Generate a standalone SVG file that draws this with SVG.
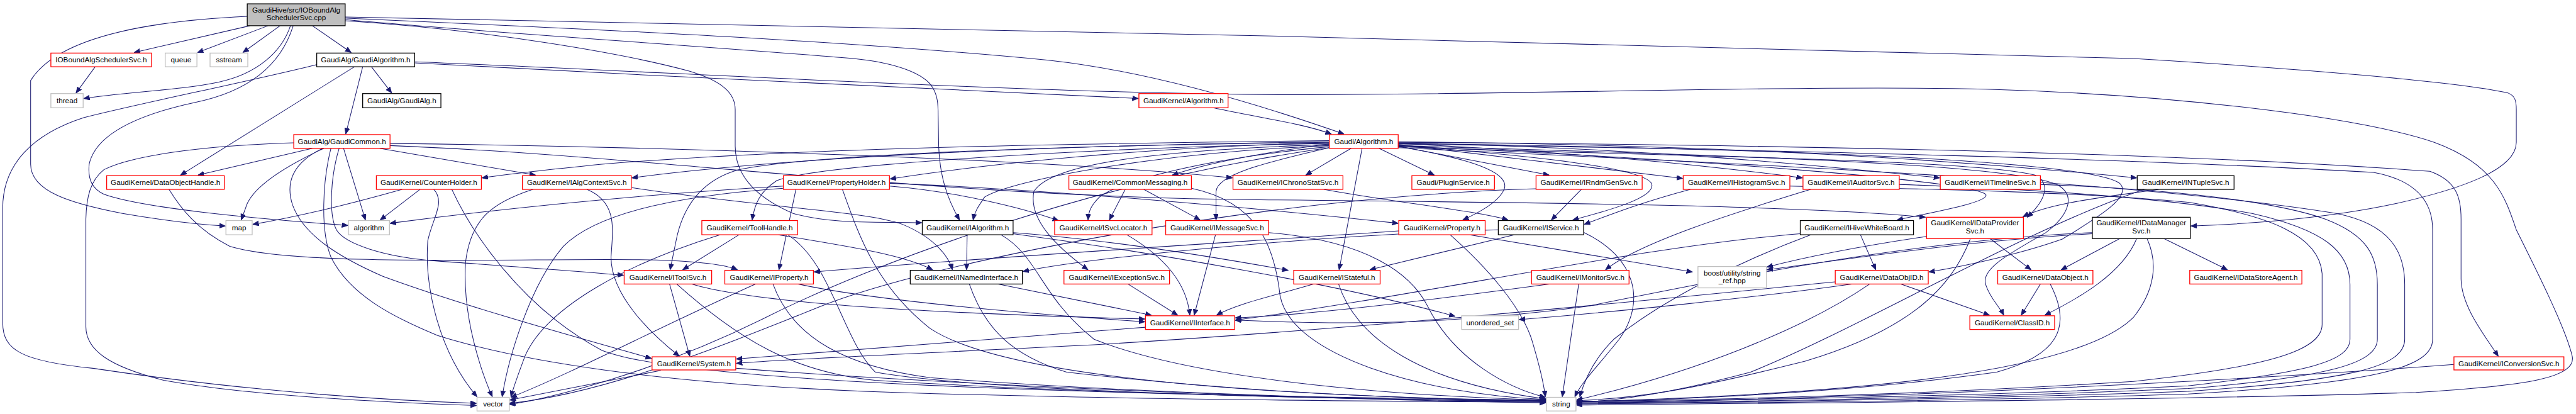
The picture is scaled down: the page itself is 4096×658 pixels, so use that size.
<svg xmlns="http://www.w3.org/2000/svg" width="4096" height="658" viewBox="0 0 4096 658">
<style>
.n rect{fill:#fff;stroke-width:1.5}
.r rect{stroke:#ff0000}
.b rect{stroke:#000}
.g rect{stroke:#bfbfbf}
.root rect{fill:#bfbfbf;stroke:#000}
text{font-family:"Liberation Sans",Arial,Helvetica,sans-serif;font-size:13.5px;text-anchor:middle;fill:#000}
#edges path{fill:none;stroke:#191970;stroke-width:1.2;marker-end:url(#a)}
</style>
<defs>
<marker id="a" markerUnits="userSpaceOnUse" markerWidth="12" markerHeight="10" refX="11" refY="4.5" orient="auto">
<path d="M0,0 L11,4.5 L0,9 z" fill="#191970" stroke="#191970" stroke-width="1"/>
</marker>
</defs>
<rect x="0" y="0" width="4096" height="658" fill="#fff"/>
<g transform="scale(0.8698)">
<g id="edges">
<path d="M457,47 L245,96"/>
<path d="M490,47 L361,96"/>
<path d="M512,47 L444,96"/>
<path d="M571,47 L642,96"/>
<path d="M531,47 C515,95 470,135 400,150 C330,165 230,168 153,180"/>
<path d="M452,30 C300,37 110,60 56,147 L56,300 C56,350 130,372 224,390 C300,403 360,410 412,413"/>
<path d="M536,47 C510,130 440,170 357,187 C250,210 175,245 163,300 C160,330 170,345 190,355 C260,380 450,398 636,412"/>
<path d="M631,38 C900,55 1150,100 1260,130 C1320,148 1344,170 1344,200 L1344,267 C1344,320 1380,360 1450,390 C1520,410 1600,405 1685,407"/>
<path d="M631,36 C900,60 1300,85 1560,107 C1640,115 1690,135 1705,160 C1714,175 1715,190 1715,210 L1716,267 C1718,320 1730,360 1754,402"/>
<path d="M631,33 C1000,50 1500,70 1917,110 C2100,130 2300,190 2457,245"/>
<path d="M631,31 C1500,45 3000,80 3900,107 C4200,125 4500,150 4585,170 C4598,175 4600,185 4600,200 L4600,260 C4600,310 4500,345 4380,372 C4250,400 4100,410 4005,413"/>
<path d="M679,122 L716,170"/>
<path d="M663,122 L632,245"/>
<path d="M648,122 L330,320"/>
<path d="M579,118 C450,150 250,190 153,215 C60,245 5,300 5,380 L5,590 C5,640 40,660 170,673 C350,700 600,728 871,737"/>
<path d="M758,115 C1200,138 1700,165 2081,180"/>
<path d="M758,113 C1200,130 1900,172 2360,173 C2800,173 3300,155 3630,163 C3950,172 4300,210 4450,260 C4560,300 4580,360 4600,420 C4640,500 4690,600 4702,650 C4712,690 4620,705 4416,717 C4100,728 3500,735 2882,740"/>
<path d="M2218,197 C2300,215 2380,225 2434,245"/>
<path d="M571,271 L362,320"/>
<path d="M592,271 C530,300 460,340 449,380 L441,402"/>
<path d="M628,271 L668,402"/>
<path d="M694,271 L979,320"/>
<path d="M713,262 C1200,268 1900,290 2253,325"/>
<path d="M537,261 C400,265 250,280 190,310 C165,330 158,360 157,400 L157,597 C157,640 200,670 300,695 C450,722 700,735 871,741"/>
<path d="M590,271 C540,295 520,330 535,375 C555,430 620,470 700,505 C850,560 1050,615 1191,655"/>
<path d="M620,271 C605,320 600,390 615,420 C630,445 700,470 800,477 C950,488 1050,495 1140,503"/>
<path d="M605,271 C590,330 585,420 605,470 C640,540 720,580 800,613 C950,660 1200,700 1580,715 C2000,730 2500,733 2826,735"/>
<path d="M713,266 C1200,285 1700,360 2300,365 C2800,370 3300,375 3520,397"/>
<path d="M2470,271 L2387,320"/>
<path d="M2521,271 L2622,320"/>
<path d="M2556,267 L2832,320"/>
<path d="M2556,264 L3076,326"/>
<path d="M2556,262 C2900,280 3100,300 3295,325"/>
<path d="M2556,261 C3000,270 3300,300 3546,325"/>
<path d="M2556,259 C3200,265 3600,295 3906,325"/>
<path d="M2490,271 L2448,493"/>
<path d="M2556,268 C2690,290 2760,315 2750,345 C2740,370 2700,390 2674,402"/>
<path d="M2556,265 C2800,285 3000,305 3019,335 C3030,360 2940,385 2875,402"/>
<path d="M2430,257 C2000,262 1500,268 1100,300 C1000,310 930,318 881,325"/>
<path d="M2430,259 C2000,265 1500,280 1155,325"/>
<path d="M2430,261 C2100,268 1800,300 1627,327"/>
<path d="M2430,263 C2300,280 2200,300 2143,320"/>
<path d="M2430,262 C2000,270 1500,300 1420,330 C1390,350 1380,370 1375,402"/>
<path d="M2430,260 C2000,265 1500,280 1350,310 C1280,330 1250,380 1238,430 L1225,493"/>
<path d="M2430,268 C2200,290 2050,330 2010,360 C1995,375 1990,385 1989,402"/>
<path d="M2430,270 C2300,300 2225,320 2223,350 L2223,402"/>
<path d="M2430,264 C2100,275 1920,300 1890,350 C1880,400 1930,450 1989,493"/>
<path d="M2430,266 C2100,280 1850,330 1800,360 C1790,375 1782,385 1779,402"/>
<path d="M2430,270 C2000,330 1600,480 1400,580 C1200,680 1000,730 931,739"/>
<path d="M2556,267 C3100,290 3600,330 3630,355 C3640,370 3520,390 3468,402"/>
<path d="M2556,268 C3000,285 3600,290 3720,320 C3750,335 3740,365 3706,397"/>
<path d="M2556,266 C3200,285 3700,300 3765,340 C3795,360 3780,395 3740,425 C3680,460 3620,490 3630,520 C3638,545 3655,560 3663,576"/>
<path d="M2556,262 C3300,272 3820,295 3875,335 C3900,360 3830,400 3770,437 C3700,462 3600,485 3526,497"/>
<path d="M2556,263 C3300,275 3900,290 4339,315 C4420,330 4447,370 4447,420 L4447,620 C4447,670 4350,700 4000,720 C3600,733 3100,737 2882,738"/>
<path d="M2556,260 C3300,265 4000,280 4442,313 C4490,330 4499,360 4499,400 L4499,510 C4500,560 4540,610 4567,651"/>
<path d="M2556,270 C3200,300 3900,330 4271,390 C4370,410 4396,460 4396,520 L4396,620 C4396,670 4300,695 4000,715 C3600,730 3100,736 2882,737"/>
<path d="M735,346 C650,370 550,395 462,410"/>
<path d="M768,346 L695,402"/>
<path d="M793,346 C815,370 790,400 782,440 C776,520 800,640 872,725"/>
<path d="M826,346 C860,420 950,560 1100,640 C1250,700 2000,722 2826,731"/>
<path d="M974,346 C900,370 860,400 851,480 C845,580 880,680 900,725"/>
<path d="M1073,346 C1130,370 1120,420 1117,470 C1117,540 1190,610 1242,651"/>
<path d="M1155,343 C1400,380 1580,385 1650,410 C1710,435 1735,470 1741,493"/>
<path d="M1432,340 C1100,360 850,390 713,408"/>
<path d="M1432,344 C1200,360 1080,400 1030,450 C970,520 930,650 918,725"/>
<path d="M1455,346 L1424,493"/>
<path d="M1626,335 C1900,345 2300,380 2556,408"/>
<path d="M1540,346 C1570,430 1600,520 1700,600 C1850,700 2400,725 2826,733"/>
<path d="M1626,340 C1750,350 1870,380 1935,403"/>
<path d="M2057,346 L2028,402"/>
<path d="M2091,346 L2194,402"/>
<path d="M2178,344 C2300,370 2330,450 2340,540 C2360,650 2600,720 2826,730"/>
<path d="M2420,346 C2550,370 2700,385 2757,402"/>
<path d="M2891,346 L2836,402"/>
<path d="M2808,345 C2300,360 1700,480 1500,560 C1300,640 1100,720 931,737"/>
<path d="M3090,346 C3000,370 2950,390 2896,410"/>
<path d="M3272,340 C3500,345 3800,350 4003,370 C4150,395 4240,430 4245,500 L4245,593 C4245,640 4150,670 3900,697 C3500,722 3100,732 2882,733"/>
<path d="M3310,346 C3200,380 3000,440 2935,493"/>
<path d="M3472,337 C3700,345 3950,360 4117,390 C4250,420 4296,460 4296,520 L4296,620 C4296,660 4220,680 4000,705 C3600,725 3100,733 2882,734"/>
<path d="M3730,337 C3950,345 4150,365 4250,400 C4330,430 4346,470 4346,520 L4346,620 C4346,665 4250,690 4000,710 C3600,728 3100,735 2882,736"/>
<path d="M3946,346 C3850,360 3750,370 3698,396"/>
<path d="M3920,346 C3700,420 3400,600 3200,680 C3050,720 2950,733 2882,735"/>
<path d="M1351,429 L1248,493"/>
<path d="M1316,429 C1150,480 1000,560 960,650 C945,690 938,710 934,725"/>
<path d="M1440,429 C1520,480 1540,620 1600,680 C1800,715 2400,730 2826,732"/>
<path d="M1423,429 C1550,450 1650,465 1705,493"/>
<path d="M1768,429 L1767,493"/>
<path d="M1852,427 C2100,460 2450,520 2660,578"/>
<path d="M1830,429 C1900,470 1900,540 2000,620 C2200,700 2600,725 2826,731"/>
<path d="M1852,425 C2050,440 2250,475 2355,494"/>
<path d="M1825,519 L2105,576"/>
<path d="M1772,519 C1800,600 1850,650 1950,680 C2300,720 2600,730 2826,732"/>
<path d="M2060,429 C2130,470 2170,520 2175,576"/>
<path d="M2222,429 L2183,576"/>
<path d="M2319,425 C2500,440 2580,500 2610,560 C2660,660 2760,710 2825,726"/>
<path d="M2062,519 L2153,576"/>
<path d="M2651,429 C2720,490 2780,560 2800,620 C2815,670 2822,700 2825,725"/>
<path d="M2687,429 L3094,497"/>
<path d="M2557,422 C2300,440 1800,470 1488,497"/>
<path d="M2768,429 L2504,493"/>
<path d="M2739,420 C2400,430 2000,470 1870,496"/>
<path d="M2896,425 C2990,470 3010,550 2960,620 C2920,670 2890,700 2879,725"/>
<path d="M2401,519 C2330,540 2260,555 2224,576"/>
<path d="M2447,519 C2480,620 2600,700 2826,729"/>
<path d="M2886,519 L2856,725"/>
<path d="M2832,519 C2600,550 2400,575 2258,581"/>
<path d="M3401,429 L3429,493"/>
<path d="M3291,427 C3000,450 2600,540 2258,585"/>
<path d="M3310,429 C3200,470 3050,540 2950,620 C2910,660 2895,700 2888,725"/>
<path d="M3638,436 L3713,493"/>
<path d="M3522,432 C3400,450 3300,470 3230,488"/>
<path d="M3602,436 C3570,520 3500,600 3300,660 C3100,710 3000,728 2882,732"/>
<path d="M3875,436 L3768,493"/>
<path d="M3906,436 C3880,500 3800,545 3738,576"/>
<path d="M3956,436 L4072,493"/>
<path d="M3825,427 C3600,440 3400,470 3230,493"/>
<path d="M3925,436 C3945,480 3940,530 3900,580 C3800,680 3400,720 2882,734"/>
<path d="M3825,425 C3500,440 3200,500 2900,560 C2600,600 2400,590 2258,585"/>
<path d="M1224,519 L1261,651"/>
<path d="M1237,519 C1350,620 1450,680 1600,695 C2000,720 2500,730 2826,733"/>
<path d="M1265,519 C1400,560 1800,575 2093,583"/>
<path d="M1381,519 C1200,600 1050,680 934,726"/>
<path d="M1459,519 C1600,550 1900,575 2093,588"/>
<path d="M1413,519 C1450,620 1550,670 1700,690 C2100,720 2500,730 2826,734"/>
<path d="M1208,677 L932,731"/>
<path d="M1346,673 C1700,700 2300,728 2826,736"/>
<path d="M2094,598 C1800,620 1500,645 1346,656"/>
<path d="M3475,519 L3637,576"/>
<path d="M3385,519 C3200,545 2950,570 2777,584"/>
<path d="M3418,519 C3300,600 3100,680 2882,731"/>
<path d="M3355,515 C3000,550 2500,600 2000,630 C1700,645 1450,655 1346,664"/>
<path d="M3730,519 L3695,576"/>
<path d="M3748,519 C3790,600 3760,650 3650,680 C3400,715 3100,730 2882,734"/>
<path d="M4486,666 C4300,680 4000,700 3500,720 C3200,730 3000,735 2882,736"/>
<path d="M309,346 C330,380 360,420 420,450 C550,490 1000,470 1200,475 C1290,478 1330,485 1348,493"/>
<path d="M174,122 L139,170"/>
</g>
<g id="n-root" class="n root"><rect x="452" y="7" width="179" height="40"/><text x="541.5" y="22.7">GaudiHive/src/IOBoundAlg</text><text x="541.5" y="36.7">SchedulerSvc.cpp</text></g>
<g id="n-iobound" class="n r"><rect x="93" y="97" width="184" height="25"/><text x="185" y="114.2">IOBoundAlgSchedulerSvc.h</text></g>
<g id="n-queue" class="n g"><rect x="302" y="97" width="58" height="25"/><text x="331" y="114.2">queue</text></g>
<g id="n-sstream" class="n g"><rect x="384" y="97" width="69" height="25"/><text x="418.5" y="114.2">sstream</text></g>
<g id="n-gaudialgorithm" class="n b"><rect x="579" y="97" width="179" height="25"/><text x="668.5" y="114.2">GaudiAlg/GaudiAlgorithm.h</text></g>
<g id="n-thread" class="n g"><rect x="93" y="171" width="59" height="26"/><text x="122.5" y="188.7">thread</text></g>
<g id="n-gaudialg" class="n b"><rect x="663" y="171" width="143" height="26"/><text x="734.5" y="188.7">GaudiAlg/GaudiAlg.h</text></g>
<g id="n-gk-algorithm" class="n r"><rect x="2082" y="171" width="163" height="26"/><text x="2163.5" y="188.7">GaudiKernel/Algorithm.h</text></g>
<g id="n-gaudicommon" class="n r"><rect x="537" y="246" width="176" height="25"/><text x="625" y="263.2">GaudiAlg/GaudiCommon.h</text></g>
<g id="n-gaudi-algorithm" class="n r"><rect x="2430" y="246" width="126" height="25"/><text x="2493" y="263.2">Gaudi/Algorithm.h</text></g>
<g id="n-dataobjecthandle" class="n r"><rect x="195" y="321" width="215" height="25"/><text x="302.5" y="338.2">GaudiKernel/DataObjectHandle.h</text></g>
<g id="n-counterholder" class="n r"><rect x="688" y="321" width="192" height="25"/><text x="784" y="338.2">GaudiKernel/CounterHolder.h</text></g>
<g id="n-ialgcontextsvc" class="n r"><rect x="955" y="321" width="199" height="25"/><text x="1054.5" y="338.2">GaudiKernel/IAlgContextSvc.h</text></g>
<g id="n-propertyholder" class="n r"><rect x="1432" y="321" width="194" height="25"/><text x="1529" y="338.2">GaudiKernel/PropertyHolder.h</text></g>
<g id="n-commonmessaging" class="n r"><rect x="1954" y="321" width="224" height="25"/><text x="2066" y="338.2">GaudiKernel/CommonMessaging.h</text></g>
<g id="n-ichronostatsvc" class="n r"><rect x="2254" y="321" width="201" height="25"/><text x="2354.5" y="338.2">GaudiKernel/IChronoStatSvc.h</text></g>
<g id="n-pluginservice" class="n r"><rect x="2581" y="321" width="151" height="25"/><text x="2656.5" y="338.2">Gaudi/PluginService.h</text></g>
<g id="n-irndmgensvc" class="n r"><rect x="2808" y="321" width="194" height="25"/><text x="2905" y="338.2">GaudiKernel/IRndmGenSvc.h</text></g>
<g id="n-ihistogramsvc" class="n r"><rect x="3077" y="321" width="195" height="25"/><text x="3174.5" y="338.2">GaudiKernel/IHistogramSvc.h</text></g>
<g id="n-iauditorsvc" class="n r"><rect x="3296" y="321" width="176" height="25"/><text x="3384" y="338.2">GaudiKernel/IAuditorSvc.h</text></g>
<g id="n-itimelinesvc" class="n r"><rect x="3547" y="321" width="183" height="25"/><text x="3638.5" y="338.2">GaudiKernel/ITimelineSvc.h</text></g>
<g id="n-intuplesvc" class="n b"><rect x="3907" y="321" width="177" height="25"/><text x="3995.5" y="338.2">GaudiKernel/INTupleSvc.h</text></g>
<g id="n-map" class="n g"><rect x="413" y="403" width="48" height="26"/><text x="437" y="420.7">map</text></g>
<g id="n-algorithm" class="n g"><rect x="637" y="403" width="75" height="26"/><text x="674.5" y="420.7">algorithm</text></g>
<g id="n-toolhandle" class="n r"><rect x="1283" y="403" width="175" height="26"/><text x="1370.5" y="420.7">GaudiKernel/ToolHandle.h</text></g>
<g id="n-ialgorithm" class="n b"><rect x="1686" y="403" width="166" height="26"/><text x="1769" y="420.7">GaudiKernel/IAlgorithm.h</text></g>
<g id="n-isvclocator" class="n r"><rect x="1928" y="403" width="178" height="26"/><text x="2017" y="420.7">GaudiKernel/ISvcLocator.h</text></g>
<g id="n-imessagesvc" class="n r"><rect x="2131" y="403" width="188" height="26"/><text x="2225" y="420.7">GaudiKernel/IMessageSvc.h</text></g>
<g id="n-property" class="n r"><rect x="2557" y="403" width="158" height="26"/><text x="2636" y="420.7">GaudiKernel/Property.h</text></g>
<g id="n-iservice" class="n b"><rect x="2739" y="403" width="156" height="26"/><text x="2817" y="420.7">GaudiKernel/IService.h</text></g>
<g id="n-ihivewhiteboard" class="n b"><rect x="3291" y="403" width="207" height="26"/><text x="3394.5" y="420.7">GaudiKernel/IHiveWhiteBoard.h</text></g>
<g id="n-idataprovidersvc" class="n r"><rect x="3522" y="397" width="177" height="39"/><text x="3610.5" y="412">GaudiKernel/IDataProvider</text><text x="3610.5" y="427">Svc.h</text></g>
<g id="n-idatamanagersvc" class="n b"><rect x="3825" y="397" width="179" height="39"/><text x="3914.5" y="412">GaudiKernel/IDataManager</text><text x="3914.5" y="427">Svc.h</text></g>
<g id="n-itoolsvc" class="n r"><rect x="1141" y="494" width="160" height="25"/><text x="1221" y="511.2">GaudiKernel/IToolSvc.h</text></g>
<g id="n-iproperty" class="n r"><rect x="1325" y="494" width="162" height="25"/><text x="1406" y="511.2">GaudiKernel/IProperty.h</text></g>
<g id="n-inamedinterface" class="n b"><rect x="1664" y="494" width="205" height="25"/><text x="1766.5" y="511.2">GaudiKernel/INamedInterface.h</text></g>
<g id="n-iexceptionsvc" class="n r"><rect x="1945" y="494" width="193" height="25"/><text x="2041.5" y="511.2">GaudiKernel/IExceptionSvc.h</text></g>
<g id="n-istateful" class="n r"><rect x="2365" y="494" width="158" height="25"/><text x="2444" y="511.2">GaudiKernel/IStateful.h</text></g>
<g id="n-imonitorsvc" class="n r"><rect x="2800" y="494" width="178" height="25"/><text x="2889" y="511.2">GaudiKernel/IMonitorSvc.h</text></g>
<g id="n-stringref" class="n g"><rect x="3104" y="487" width="125" height="39"/><text x="3166.5" y="503">boost/utility/string</text><text x="3166.5" y="517">_ref.hpp</text></g>
<g id="n-dataobjid" class="n r"><rect x="3355" y="494" width="170" height="25"/><text x="3440" y="511.2">GaudiKernel/DataObjID.h</text></g>
<g id="n-dataobject" class="n r"><rect x="3652" y="494" width="174" height="25"/><text x="3739" y="511.2">GaudiKernel/DataObject.h</text></g>
<g id="n-idatastoreagent" class="n r"><rect x="4003" y="494" width="205" height="25"/><text x="4105.5" y="511.2">GaudiKernel/IDataStoreAgent.h</text></g>
<g id="n-iinterface" class="n r"><rect x="2094" y="577" width="163" height="25"/><text x="2175.5" y="594.2">GaudiKernel/IInterface.h</text></g>
<g id="n-unordered_set" class="n g"><rect x="2672" y="577" width="104" height="25"/><text x="2724" y="594.2">unordered_set</text></g>
<g id="n-classid" class="n r"><rect x="3601" y="577" width="155" height="25"/><text x="3678.5" y="594.2">GaudiKernel/ClassID.h</text></g>
<g id="n-system" class="n r"><rect x="1192" y="652" width="153" height="24"/><text x="1268.5" y="668.7">GaudiKernel/System.h</text></g>
<g id="n-iconversionsvc" class="n r"><rect x="4486" y="652" width="201" height="24"/><text x="4586.5" y="668.7">GaudiKernel/IConversionSvc.h</text></g>
<g id="n-vector" class="n g"><rect x="872" y="726" width="59" height="25"/><text x="901.5" y="743.2">vector</text></g>
<g id="n-string" class="n g"><rect x="2827" y="726" width="54" height="25"/><text x="2854" y="743.2">string</text></g>
</g>
</svg>
